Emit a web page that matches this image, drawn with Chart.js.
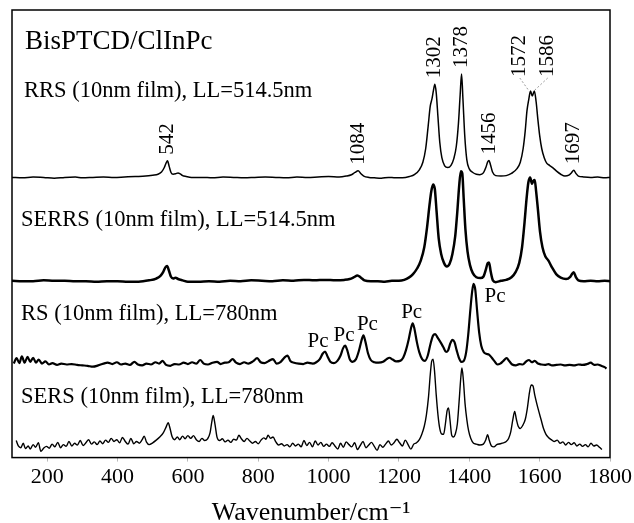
<!DOCTYPE html>
<html>
<head>
<meta charset="utf-8">
<title>BisPTCD/ClInPc Raman spectra</title>
<script src="https://cdn.jsdelivr.net/npm/chart.js@4.4.1/dist/chart.umd.min.js"></script>
<style>
  html, body { margin: 0; padding: 0; background: #fff; }
  #wrap { width: 634px; height: 523px; }
</style>
</head>
<body>
<div id="wrap"><canvas id="spectraChart" width="634" height="523"></canvas></div>
<script>
// Eixo x: número de onda (cm-1)
const tickValues = [200, 400, 600, 800, 1000, 1200, 1400, 1600, 1800];

// RRS (10nm film), LL=514.5nm
const rrsWn = [100,130,160,190,220,250,280,300,330,360,390,420,450,480,500,515,525,533,538,542,547,552,558,565,572,578,585,595,610,640,670,700,730,760,790,820,850,880,910,940,970,1000,1030,1050,1065,1075,1084,1092,1100,1115,1130,1150,1170,1190,1210,1230,1245,1258,1268,1276,1283,1289,1294,1298,1302,1306,1311,1316,1322,1330,1339,1348,1356,1363,1369,1374,1378,1382,1387,1393,1400,1410,1420,1430,1440,1447,1452,1456,1460,1466,1475,1490,1505,1520,1535,1545,1553,1559,1564,1569,1574,1579,1585,1590,1595,1600,1606,1613,1620,1628,1637,1648,1660,1672,1683,1690,1697,1703,1710,1725,1745,1765,1785,1800];
const rrsInt = [62.6,62.5,62.7,62.6,62.4,62.6,62.7,62.5,62.6,62.7,62.6,62.7,62.8,62.9,63.1,63.3,63.8,64.8,65.8,66.3,65.0,63.7,63.3,63.4,63.6,63.4,63.0,62.8,62.6,62.6,62.5,62.7,62.6,62.5,62.6,62.7,62.6,62.5,62.7,62.6,62.7,62.8,62.7,62.9,63.2,63.7,64.1,63.4,62.9,62.6,62.5,62.4,62.6,62.5,62.5,62.8,63.3,64.3,66.0,69.0,74.0,78.5,80.2,82.0,83.4,81.5,76.0,70.5,67.0,65.2,64.8,65.3,66.8,69.5,74.5,81.0,85.7,80.0,72.0,66.5,64.5,63.7,63.3,63.2,63.6,64.8,66.0,66.4,65.5,63.8,63.0,62.9,63.0,63.5,64.5,66.0,69.0,73.0,77.5,80.0,81.9,80.8,81.9,79.5,75.5,72.0,69.0,67.0,65.8,65.3,64.8,64.0,63.3,62.9,63.1,63.6,64.2,63.5,62.9,62.7,62.6,62.7,62.5,62.6];

// SERRS (10nm film), LL=514.5nm
const serrsWn = [100,130,160,190,220,250,280,310,340,370,400,430,460,490,510,522,530,536,541,546,552,558,565,572,585,600,630,660,690,720,750,780,810,840,870,900,930,960,990,1020,1045,1060,1072,1082,1092,1102,1120,1140,1160,1180,1200,1215,1228,1240,1252,1262,1272,1280,1287,1292,1297,1302,1307,1313,1320,1328,1336,1344,1352,1360,1366,1371,1376,1380,1384,1389,1395,1402,1410,1420,1432,1440,1447,1452,1456,1461,1467,1475,1490,1505,1520,1532,1542,1550,1557,1563,1568,1573,1578,1582,1586,1590,1595,1601,1608,1616,1625,1635,1647,1660,1675,1687,1692,1697,1703,1710,1725,1745,1765,1785,1800];
const serrsInt = [39.5,39.4,39.4,39.6,39.5,39.5,39.4,39.4,39.3,39.4,39.4,39.3,39.3,39.6,40.0,40.6,41.5,42.5,42.8,41.8,40.4,40.0,40.2,39.9,39.6,39.3,39.3,39.4,39.3,39.5,39.4,39.6,39.5,39.4,39.6,39.5,39.7,39.6,39.7,39.6,39.7,39.9,40.3,40.7,40.2,39.6,39.4,39.4,39.3,39.5,39.5,39.7,40.2,41.0,42.3,44.0,47.0,51.5,56.5,59.5,61.0,60.0,55.0,49.0,45.5,43.5,42.7,43.3,45.5,49.5,55.0,60.5,64.0,63.5,58.0,51.0,46.0,43.0,41.2,40.3,40.1,40.4,42.0,43.4,43.6,41.5,39.6,39.2,39.5,39.7,40.3,41.5,43.5,47.0,52.5,58.0,61.5,62.6,61.2,61.8,62.0,59.5,55.5,50.5,47.0,45.0,44.0,42.5,41.0,40.2,39.9,40.4,41.0,41.4,40.3,39.6,39.4,39.5,39.4,39.5,39.4];

// RS (10nm film), LL=780nm
const rsWn = [105,113,121,128,136,144,152,160,168,176,185,195,205,215,228,240,255,270,285,300,315,330,345,360,372,385,398,410,422,435,448,458,470,482,495,508,518,528,538,550,562,575,588,600,612,624,635,645,657,670,683,693,705,716,727,737,748,760,772,785,797,807,818,830,842,852,864,875,883,892,902,915,928,940,955,965,975,983,990,997,1005,1015,1025,1034,1041,1047,1053,1060,1068,1078,1086,1093,1099,1105,1112,1120,1130,1142,1155,1165,1173,1182,1192,1203,1212,1220,1228,1234,1239,1244,1251,1258,1266,1274,1282,1290,1297,1303,1310,1318,1326,1334,1340,1346,1352,1358,1364,1370,1377,1384,1391,1397,1403,1408,1412,1417,1422,1428,1434,1441,1448,1456,1464,1472,1480,1488,1497,1506,1514,1522,1532,1542,1552,1562,1570,1578,1586,1595,1605,1615,1625,1635,1648,1660,1672,1685,1698,1710,1722,1735,1745,1755,1765,1775,1785,1790];
const rsInt = [21.0,22.2,21.1,22.6,21.2,22.5,21.4,22.3,21.2,21.9,21.0,21.5,20.8,21.1,20.7,21.0,20.8,20.9,20.7,20.6,20.5,20.3,20.6,21.0,21.2,20.9,21.3,20.8,21.0,20.7,21.4,20.8,20.6,21.0,20.8,21.3,21.0,21.6,20.7,20.5,20.9,20.8,21.2,20.9,21.3,21.0,21.8,21.0,20.8,21.2,21.4,20.9,21.2,21.3,22.0,21.2,20.9,21.3,21.0,21.5,22.2,21.3,21.1,21.6,22.0,21.0,21.4,22.4,22.8,21.5,21.2,21.0,20.9,21.2,21.0,21.3,22.0,23.2,23.7,22.6,21.4,21.1,21.6,22.8,24.4,25.0,24.0,22.0,21.4,22.0,23.8,26.0,27.3,25.8,23.3,21.8,21.3,21.2,21.4,22.0,22.3,21.9,21.5,21.6,22.3,24.0,26.5,28.8,30.0,28.8,25.8,23.5,22.0,21.6,22.8,25.5,27.3,27.6,26.8,25.8,24.7,23.6,24.0,25.5,26.3,25.8,24.0,22.4,21.4,21.6,23.5,27.5,33.0,37.0,38.8,37.5,33.0,28.0,25.0,23.6,23.2,23.0,22.3,21.5,20.8,21.0,21.6,22.2,21.5,20.8,20.6,20.9,20.8,21.5,21.8,21.3,21.6,21.0,20.8,20.7,20.9,20.6,20.7,20.8,20.6,20.7,20.6,20.8,20.7,20.9,21.2,20.7,20.8,20.5,20.2,19.9];

// SERS (10nm film), LL=780nm
const sersWn = [112,118,125,132,138,146,152,160,167,175,182,190,198,206,214,222,230,238,246,254,262,270,278,286,294,302,310,318,326,334,342,350,358,366,374,382,390,398,406,414,422,430,438,446,454,462,470,476,482,490,500,510,520,530,538,544,549,555,562,570,577,585,592,600,608,616,624,632,640,648,656,663,668,672,677,683,690,698,706,714,722,730,738,745,752,760,768,776,784,792,800,808,816,822,828,835,842,850,858,866,874,882,890,898,906,914,922,930,938,946,954,962,970,978,986,994,1002,1010,1018,1026,1034,1042,1050,1058,1066,1074,1082,1090,1098,1106,1114,1122,1130,1138,1146,1154,1162,1170,1178,1186,1194,1202,1210,1218,1226,1234,1242,1250,1258,1265,1272,1278,1284,1289,1293,1297,1301,1306,1311,1316,1321,1327,1332,1337,1341,1345,1350,1355,1360,1366,1371,1376,1379,1383,1388,1393,1398,1404,1412,1420,1430,1440,1447,1452,1457,1463,1470,1478,1488,1497,1505,1512,1518,1524,1529,1534,1539,1545,1552,1559,1565,1571,1576,1581,1586,1592,1598,1604,1611,1618,1625,1633,1641,1650,1658,1666,1674,1682,1690,1698,1706,1714,1722,1730,1738,1746,1754,1762,1770,1777];
const sersInt = [3.8,2.6,2.2,3.2,2.0,2.6,1.9,2.9,2.3,3.3,1.4,2.1,2.5,2.1,3.0,2.4,3.4,2.2,2.9,2.5,3.6,2.6,3.2,2.8,3.8,2.7,3.3,4.0,3.0,3.5,2.9,3.7,3.1,3.9,3.4,4.3,3.6,4.0,3.3,4.5,3.6,3.0,4.3,3.1,3.6,3.2,4.0,4.8,3.5,2.9,3.3,3.9,4.6,5.5,6.8,7.8,6.6,4.7,4.0,4.6,4.0,4.8,4.2,4.9,4.3,4.9,4.0,3.6,4.3,3.8,4.2,5.5,8.0,9.4,7.5,4.5,3.8,4.2,3.5,3.9,3.4,4.1,3.9,5.0,4.2,3.6,4.3,3.7,3.2,3.6,3.1,3.9,4.4,4.1,5.0,4.3,4.6,3.5,2.8,3.1,2.6,2.9,2.4,3.2,2.6,3.0,2.4,3.8,2.7,3.4,2.4,3.7,2.8,3.4,2.5,3.0,2.5,3.3,2.6,1.9,3.2,2.3,3.5,2.9,2.4,3.3,1.8,2.7,3.6,2.2,2.8,3.4,2.5,1.6,2.9,2.3,3.0,3.7,2.8,3.3,4.1,3.3,2.6,3.9,2.9,1.9,3.0,3.3,4.0,5.2,7.0,9.5,13.5,18.5,21.5,22.0,19.5,14.0,9.5,6.5,5.3,5.2,7.5,10.5,11.1,8.5,5.0,4.6,5.2,7.5,12.5,18.0,20.0,17.5,12.0,8.5,6.0,4.3,3.2,3.0,2.8,3.0,4.0,5.1,3.8,2.6,2.4,2.9,3.1,3.3,3.6,4.3,5.8,8.6,10.3,8.5,7.0,6.5,7.2,8.5,11.0,14.5,16.2,16.0,14.0,12.0,10.2,8.5,6.5,5.2,4.5,4.0,3.6,3.9,3.2,3.5,2.8,3.4,2.9,3.3,2.6,3.0,2.5,2.9,2.4,3.2,2.6,2.8,2.3,1.8];

// Rótulos dos picos (RRS) e bandas de Pc (RS)
const peakLabels = ['542', '1084', '1302', '1378', '1456', '1572', '1586', '1697'];
const peakWn = [542, 1084, 1302, 1378, 1456, 1572, 1586, 1697];
const pcWn = [990, 1047, 1099, 1239, 1412];

const serif = "'Liberation Serif', 'Times New Roman', 'DejaVu Serif', serif";
Chart.defaults.font.family = serif;
Chart.defaults.color = '#000';

function toPoints(xs, ys) {
  return xs.map((x, i) => ({ x: x, y: ys[i] }));
}

// maior valor da série perto de um número de onda
function localMax(xs, ys, wn, win) {
  let best = -Infinity;
  xs.forEach((x, i) => {
    if (Math.abs(x - wn) <= win && ys[i] > best) best = ys[i];
  });
  return best;
}

const annotate = {
  id: 'annotate',
  afterDatasetsDraw(chart) {
    const { ctx, chartArea: a, scales: { x, y } } = chart;
    ctx.save();

    // moldura
    ctx.strokeStyle = '#000';
    ctx.lineWidth = 1.5;
    ctx.strokeRect(a.left, a.top, a.right - a.left, a.bottom - a.top);

    ctx.fillStyle = '#000';
    ctx.textBaseline = 'alphabetic';
    ctx.textAlign = 'left';

    // título e nomes dos espectros
    ctx.font = '27px ' + serif;
    ctx.fillText('BisPTCD/ClInPc', a.left + 13, y.getPixelForValue(91.3));
    ctx.font = '22.5px ' + serif;
    ctx.fillText('RRS (10nm film), LL=514.5nm', a.left + 12, y.getPixelForValue(80.6));
    ctx.fillText('SERRS (10nm film), LL=514.5nm', a.left + 9, y.getPixelForValue(51.7));
    ctx.fillText('RS (10nm film), LL=780nm', a.left + 9, y.getPixelForValue(30.7));
    ctx.fillText('SERS (10nm film), LL=780nm', a.left + 9, y.getPixelForValue(12.2));

    // rótulos verticais dos picos
    ctx.font = '21px ' + serif;
    ctx.textBaseline = 'middle';
    peakLabels.forEach((lab, i) => {
      const wn = peakWn[i];
      const px = x.getPixelForValue(wn);
      const py = y.getPixelForValue(localMax(rrsWn, rrsInt, wn, 8));
      let lx = px, ly = py - 6;
      if (lab === '1572' || lab === '1586') {
        lx = px + (lab === '1572' ? -10 : 13);
        ly = py - 10;
        // linha guia pontilhada
        ctx.save();
        ctx.strokeStyle = '#999';
        ctx.lineWidth = 1;
        ctx.setLineDash([2, 2]);
        ctx.beginPath();
        ctx.moveTo(lx, ly - 3);
        ctx.lineTo(px + (lab === '1572' ? 0 : -2), py + 1);
        ctx.stroke();
        ctx.restore();
        ly -= 4;
      }
      ctx.save();
      ctx.translate(lx, ly);
      ctx.rotate(-Math.PI / 2);
      ctx.fillText(lab, 0, 0);
      ctx.restore();
    });

    // rótulos "Pc"
    ctx.font = '21px ' + serif;
    ctx.textBaseline = 'alphabetic';
    pcWn.forEach((wn, i) => {
      const px = x.getPixelForValue(wn);
      const py = y.getPixelForValue(localMax(rsWn, rsInt, wn, 6));
      if (i === pcWn.length - 1) {
        ctx.textAlign = 'left';
        ctx.fillText('Pc', px + 11, py + 18);
      } else {
        ctx.textAlign = 'center';
        const dx = i === 0 ? -7 : (i === 2 ? 4 : -1);
        ctx.fillText('Pc', px + dx, py - 5);
      }
    });
    ctx.restore();
  }
};

const lineStyle = (data, w) => ({
  data: data,
  borderColor: '#000',
  borderWidth: w,
  pointRadius: 0,
  fill: false,
  cubicInterpolationMode: 'monotone'
});

const config = {
  type: 'line',
  data: {
    datasets: [
      lineStyle(toPoints(rrsWn, rrsInt), 1.5),
      lineStyle(toPoints(serrsWn, serrsInt), 2.5),
      lineStyle(toPoints(rsWn, rsInt), 2.2),
      lineStyle(toPoints(sersWn, sersInt), 1.4)
    ]
  },
  options: {
    responsive: false,
    animation: false,
    layout: { padding: { left: 12, top: 10, right: 24, bottom: 0 } },
    plugins: { legend: { display: false }, tooltip: { enabled: false } },
    scales: {
      x: {
        type: 'linear',
        min: 100,
        max: 1800,
        afterBuildTicks: (scale) => { scale.ticks = tickValues.map(v => ({ value: v })); },
        border: { display: false },
        grid: { drawOnChartArea: false, tickLength: 4, color: '#bbb' },
        ticks: {
          font: { size: 22 },
          padding: 2,
          maxRotation: 0,
          color: '#000',
          callback: (v) => String(v)
        },
        title: {
          display: true,
          text: 'Wavenumber/cm\u207B\u00B9',
          font: { size: 26, lineHeight: 0.77 },
          color: '#000',
          padding: { top: 11, bottom: 0 }
        }
      },
      y: { display: false, min: 0, max: 100 }
    }
  },
  plugins: [annotate]
};

document.addEventListener('DOMContentLoaded', () => {
  new Chart(document.getElementById('spectraChart').getContext('2d'), config);
});
</script>
</body>
</html>
